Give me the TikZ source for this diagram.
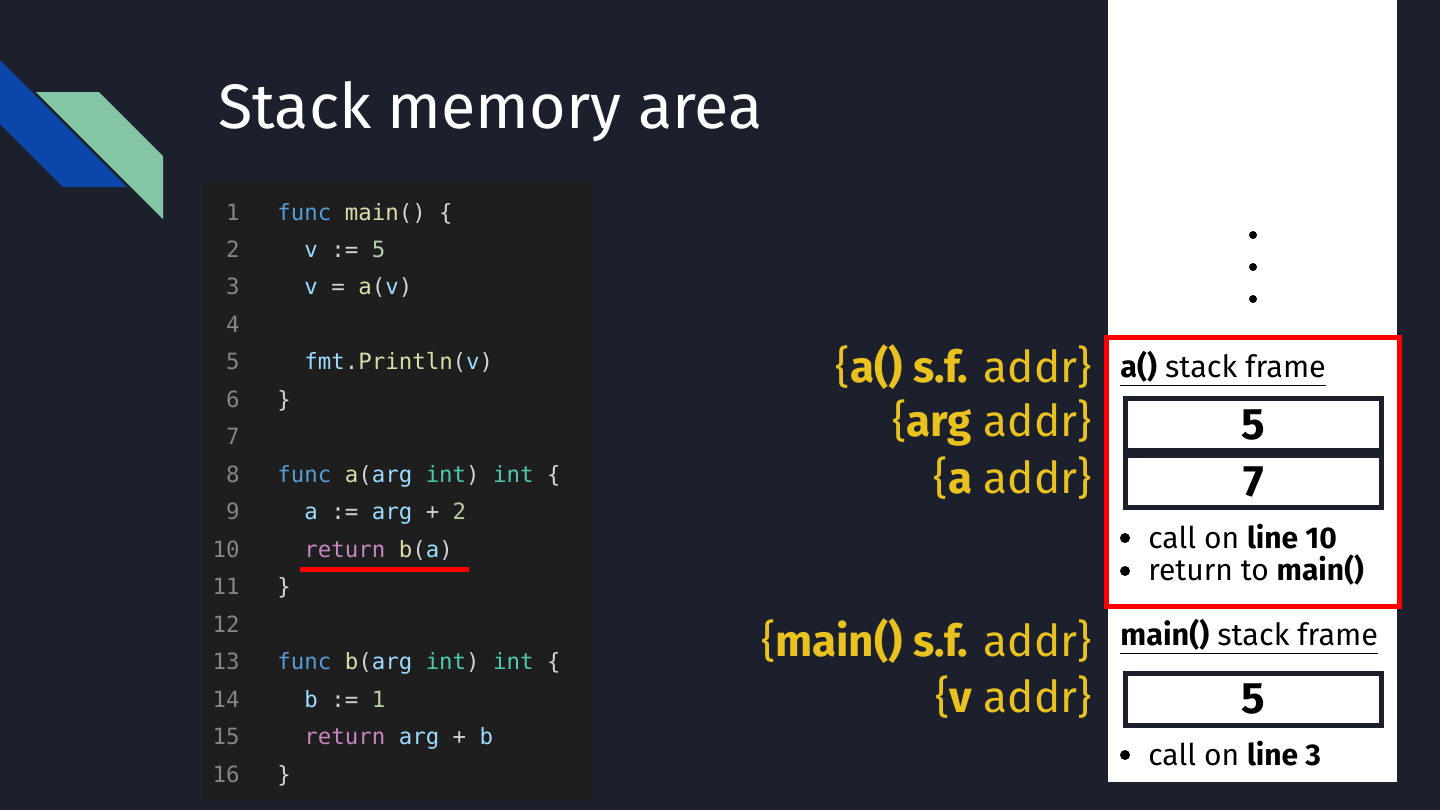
\documentclass[tikz,border=0pt]{standalone}
\usepackage{fontspec}
\setmainfont{Fira Sans}
\setmonofont{DejaVu Sans Mono}

\definecolor{slidebg}{HTML}{1C202C}
\definecolor{codebg}{HTML}{1E1E1E}
\definecolor{logoblue}{HTML}{0B47A8}
\definecolor{logogreen}{HTML}{84C6A5}
\definecolor{addrgold}{HTML}{EAC21F}
\definecolor{framered}{HTML}{FF0000}
\definecolor{lnumgray}{HTML}{858585}
\definecolor{ctext}{HTML}{D4D4D4}
\definecolor{ckw}{HTML}{569CD6}
\definecolor{cfn}{HTML}{DCDCAA}
\definecolor{cvar}{HTML}{9CDCFE}
\definecolor{cnum}{HTML}{B5CEA8}
\definecolor{ctype}{HTML}{4EC9B0}
\definecolor{cret}{HTML}{C586C0}

% code token colours
\newcommand{\ckw}[1]{\textcolor{ckw}{#1}}
\newcommand{\cfn}[1]{\textcolor{cfn}{#1}}
\newcommand{\cvar}[1]{\textcolor{cvar}{#1}}
\newcommand{\cnum}[1]{\textcolor{cnum}{#1}}
\newcommand{\ctype}[1]{\textcolor{ctype}{#1}}
\newcommand{\cret}[1]{\textcolor{cret}{#1}}

\tikzset{
  lnum/.style={anchor=base east, inner sep=0pt, text=lnumgray, font=\ttfamily\fontsize{11.2}{13}\selectfont},
  codeline/.style={anchor=base west, inner sep=0pt, text=ctext, font=\ttfamily\fontsize{11.2}{13}\selectfont},
  addrlabel/.style={anchor=east, inner sep=0pt, text=addrgold, font=\fontsize{22}{24}\selectfont},
  frametitle/.style={anchor=west, inner sep=0pt, text=black, font=\fontsize{15.3}{17}\selectfont},
  bulletline/.style={anchor=west, inner sep=0pt, text=black, font=\fontsize{15}{17}\selectfont},
  cell/.style={draw=slidebg, line width=2.5pt, fill=white, minimum width=128pt, minimum height=26pt,
    inner sep=0pt, font=\bfseries\fontsize{22}{24}\selectfont},
  dot/.style={circle, fill=black, inner sep=0pt, minimum size=4pt},
  bulletdot/.style={circle, fill=black, inner sep=0pt, minimum size=5pt}
}

\begin{document}
\begin{tikzpicture}[x=0.5pt, y=-0.5pt]
  % Slide background
  \fill[slidebg] (0,0) rectangle (1440,810);
  \useasboundingbox (0,0) rectangle (1440,810);

  % Logo
  \fill[logoblue] (0,60) -- (127,187) -- (63,187) -- (0,124) -- cycle;
  \fill[logogreen] (36,92) -- (99,92) -- (163,156) -- (163,219) -- cycle;

  % Title
  \node[anchor=west, inner sep=0pt, text=white, font=\fontsize{31.4}{36}\selectfont] (title) at (218,112) {Stack memory area};

  % Code panel
  \fill[codebg] (203,182) rectangle (592,800);
  \foreach \n in {1,...,16}
    \node[lnum] (ln\n) at (240, {220+37.47*(\n-1)}) {\n};
  \foreach \n/\ind/\txt in {
      1/0/{\ckw{func} \cfn{main}() \{},
      2/1/{\cvar{v} := \cnum{5}},
      3/1/{\cvar{v} = \cfn{a}(\cvar{v})},
      5/1/{\cvar{fmt}.\cfn{Println}(\cvar{v})},
      6/0/{\}},
      8/0/{\ckw{func} \cfn{a}(\cvar{arg} \ctype{int}) \ctype{int} \{},
      9/1/{\cvar{a} := \cvar{arg} + \cnum{2}},
      10/1/{\cret{return} \cfn{b}(\cvar{a})},
      11/0/{\}},
      13/0/{\ckw{func} \cfn{b}(\cvar{arg} \ctype{int}) \ctype{int} \{},
      14/1/{\cvar{b} := \cnum{1}},
      15/1/{\cret{return} \cvar{arg} + \cvar{b}},
      16/0/{\}}}
    \node[codeline] (code\n) at ({277+27*\ind}, {220+37.47*(\n-1)}) {\txt};

  % Current line marker
  \fill[framered] (300,567) rectangle (469,571.5);

  % Stack column
  \fill[white] (1108,0) rectangle (1397,782);
  \foreach \i/\y in {1/235, 2/267, 3/299}
    \node[dot] (more\i) at (1253,\y) {};

  % a() stack frame
  \draw[framered, line width=2.5pt] (1106.5,337.5) rectangle (1399,606);
  \node[frametitle] (atitle) at (1120,369) {\underline{\textbf{a()} stack frame}};
  \node[cell] (aarg) at (1253.5,424.5) {5};
  \node[cell] (aloc) at (1253.5,481.5) {7};
  \node[bulletdot] (acalldot) at (1125,538) {};
  \node[bulletline] (acall) at (1148,537) {call on \textbf{line 10}};
  \node[bulletdot] (aretdot) at (1125,571) {};
  \node[bulletline] (aret) at (1148,570) {return to \textbf{main()}};

  % main() stack frame
  \node[frametitle] (maintitle) at (1120,637) {\underline{\textbf{main()} stack frame}};
  \node[cell] (mainv) at (1253.5,699) {5};
  \node[bulletdot] (maincalldot) at (1125,755) {};
  \node[bulletline] (maincall) at (1148,754) {call on \textbf{line 3}};

  % Address labels
  \node[addrlabel] (lblaframe) at (1092,367) {\{\textbf{a() s.f.} addr\}};
  \node[addrlabel] (lblarg) at (1092,423) {\{\textbf{arg} addr\}};
  \node[addrlabel] (lbla) at (1092,478) {\{\textbf{a} addr\}};
  \node[addrlabel] (lblmainframe) at (1092,641) {\{\textbf{main() s.f.} addr\}};
  \node[addrlabel] (lblv) at (1092,697) {\{\textbf{v} addr\}};
\end{tikzpicture}
\end{document}
